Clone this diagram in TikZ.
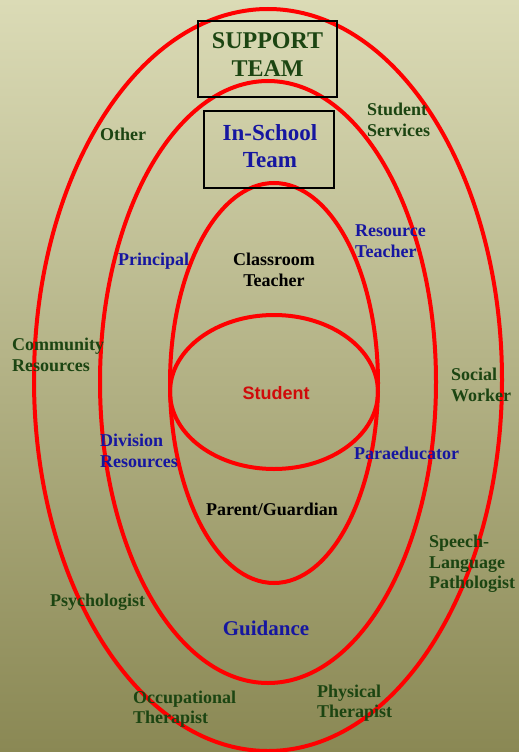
\documentclass[tikz,border=0pt]{standalone}
\usepackage{fontspec}
\setmainfont{Liberation Serif}
\setsansfont{Liberation Sans}
\usetikzlibrary{calc, shapes, backgrounds}
\definecolor{BgTop}{HTML}{DBDBB6}
\definecolor{BgBottom}{HTML}{8A8854}
\definecolor{RingRed}{HTML}{FF0000}
\definecolor{TeamGreen}{HTML}{1C4512}
\definecolor{TeamBlue}{HTML}{1616A0}
\definecolor{KidRed}{HTML}{D00A0A}
\tikzset{
    ring/.style={RingRed, line width=4pt},
    teambox/.style={draw=black, line width=2pt, align=center, inner sep=0pt},
    teamtext/.style={align=center, inner sep=0pt,
        font=\bfseries\fontsize{24}{28}\selectfont},
    outerlbl/.style={TeamGreen, align=left, anchor=west, inner sep=0pt,
        font=\bfseries\fontsize{18}{20.5}\selectfont},
    innerlbl/.style={outerlbl, TeamBlue},
    corelbl/.style={black, align=center, inner sep=0pt,
        font=\bfseries\fontsize{18}{20.5}\selectfont}
}

\begin{document}
\begin{tikzpicture}[x=1pt, y=-1pt]
    % =========================================
    % 1. Background
    % =========================================
    \useasboundingbox (0,0) rectangle (519,752);
    \shade[top color=BgTop, bottom color=BgBottom] (0,0) rectangle (519,752);

    % =========================================
    % 2. Rings
    % =========================================
    \draw[ring] (268,380) ellipse (234 and 371);
    \draw[ring] (268,382) ellipse (168 and 301);
    \draw[ring] (274,383) ellipse (104 and 200);
    \draw[ring] (274,392) ellipse (104 and 77);

    % =========================================
    % 3. Team boxes
    % =========================================
    \node[teambox, minimum width=139pt, minimum height=76pt] (support) at (267.5,59) {};
    \node[teambox, minimum width=130pt, minimum height=77pt] (inschool) at (269,149.5) {};
    \node[teamtext, text=TeamGreen] (supportlbl) at (267.5,55) {SUPPORT\\TEAM};
    \node[teamtext, text=TeamBlue, font=\bfseries\fontsize{23}{27.5}\selectfont] (inschoollbl) at (270,146) {In-School\\Team};

    % =========================================
    % 4. Labels
    % =========================================
    % outer ring
    \node[outerlbl] (other) at (100,134) {Other};
    \node[outerlbl] (services) at (367,120) {Student\\Services};
    \node[outerlbl] (community) at (12,355) {Community\\Resources};
    \node[outerlbl] (social) at (451,385) {Social\\Worker};
    \node[outerlbl] (speech) at (429,564) {Speech-\\Language\\Pathologist};
    \node[outerlbl] (psych) at (50,602) {Psychologist};
    \node[outerlbl] (occup) at (133,709) {Occupational\\Therapist};
    \node[outerlbl] (physical) at (317,703) {Physical\\Therapist};

    % in-school ring
    \node[innerlbl] (principal) at (118,261) {Principal};
    \node[innerlbl] (resource) at (355,241) {Resource\\Teacher};
    \node[innerlbl] (division) at (100,451) {Division\\Resources};
    \node[innerlbl] (para) at (354,453) {Paraeducator};
    \node[innerlbl, anchor=center, font=\bfseries\fontsize{21}{24}\selectfont] (guidance) at (266,628) {Guidance};

    % core
    \node[corelbl] (classroom) at (274,270) {Classroom\\Teacher};
    \node[corelbl] (parent) at (272,509) {Parent/Guardian};
    \node[KidRed, inner sep=0pt, font=\sffamily\bfseries\fontsize{18}{21}\selectfont] (student) at (276,393) {Student};

\end{tikzpicture}
\end{document}
